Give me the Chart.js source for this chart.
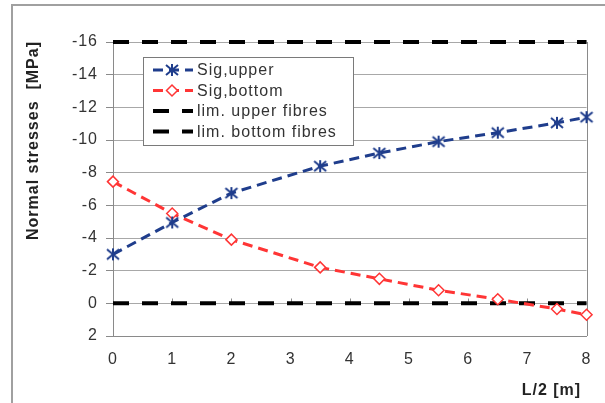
<!DOCTYPE html>
<html lang="en">
<head>
<meta charset="UTF-8">
<title>Normal stresses along L/2</title>
<script src="https://cdn.jsdelivr.net/npm/chart.js"></script>
<style>
  body { margin: 0; background: #fff; }
  .wrap { position: relative; width: 605px; height: 403px; overflow: hidden; }
  .frame {
    position: absolute; left: 11px; top: 4px; width: 700px; height: 500px;
    border-left: 2px solid #a0a0a0; border-top: 2px solid #a0a0a0;
  }
  canvas { position: absolute; left: 0; top: 0; }
</style>
</head>
<body>
<div class="wrap">
  <div class="frame"></div>
  <canvas id="stressChart" width="605" height="403"></canvas>
</div>
<script>
// stations along half span L/2 [m]
const positions = [0, 1, 2, 3.5, 4.5, 5.5, 6.5, 7.5, 8];
// normal stresses [MPa] (compression negative)
const sigUpper = [-3.0, -4.95, -6.75, -8.4, -9.2, -9.9, -10.45, -11.05, -11.4];
const sigBottom = [-7.45, -5.5, -3.9, -2.2, -1.5, -0.8, -0.25, 0.35, 0.7];
// limit lines
const limX = [0, 8];
const limUpper = [-16, -16];
const limBottom = [0, 0];
// axis ticks
const xTicks = [0, 1, 2, 3, 4, 5, 6, 7, 8];
const yTicks = [-16, -14, -12, -10, -8, -6, -4, -2, 0, 2];
const yTitle = 'Normal stresses  [MPa]';
const xTitle = 'L/2 [m]';

const BLUE = '#1f3d8c';
const RED = '#ff3535';
const FONT = '"Liberation Sans", Arial, sans-serif';

// excel-like star marker (x with vertical bar)
function makeStar(color) {
  const c = document.createElement('canvas');
  c.width = 16; c.height = 14;
  const g = c.getContext('2d');
  g.strokeStyle = color;
  g.lineWidth = 2;
  g.beginPath();
  g.moveTo(2, 2); g.lineTo(14, 12);
  g.moveTo(14, 2); g.lineTo(2, 12);
  g.moveTo(8, 1); g.lineTo(8, 13);
  g.stroke();
  return c;
}
const starMarker = makeStar(BLUE);

function pts(xs, ys) {
  return xs.map((x, i) => ({ x: x, y: ys[i] }));
}

function drawDiamond(ctx, cx, cy, r, color) {
  ctx.beginPath();
  ctx.moveTo(cx - r, cy); ctx.lineTo(cx, cy - r);
  ctx.lineTo(cx + r, cy); ctx.lineTo(cx, cy + r);
  ctx.closePath();
  ctx.fillStyle = '#fff';
  ctx.fill();
  ctx.lineWidth = 1.5;
  ctx.strokeStyle = color;
  ctx.stroke();
}

// frame, zero-line ticks, y title and the inside legend
const plotExtras = {
  id: 'plotExtras',
  beforeDraw(chart) {
    chart.ctx.letterSpacing = '1px';
  },
  beforeDatasetsDraw(chart) {
    const { ctx, chartArea: a, scales: { x, y } } = chart;
    ctx.save();
    ctx.strokeStyle = '#8a8a8a';
    ctx.lineWidth = 1;
    ctx.beginPath();
    ctx.moveTo(Math.round(a.right) + 0.5, a.top);
    ctx.lineTo(Math.round(a.right) + 0.5, a.bottom);
    const y0 = Math.round(y.getPixelForValue(0)) + 0.5;
    xTicks.forEach(v => {
      const px = Math.round(x.getPixelForValue(v)) + 0.5;
      ctx.moveTo(px, y0);
      ctx.lineTo(px, y0 - 5);
    });
    ctx.stroke();
    ctx.restore();
  },
  afterDraw(chart) {
    const ctx = chart.ctx;
    const a = chart.chartArea;

    // y axis title, top-aligned with the plot
    ctx.save();
    ctx.translate(34, a.top - 1);
    ctx.rotate(-Math.PI / 2);
    ctx.fillStyle = '#222';
    ctx.font = 'bold 16px ' + FONT;
    ctx.textAlign = 'right';
    ctx.textBaseline = 'middle';
    ctx.fillText(yTitle, 0, 0);
    ctx.restore();

    const left = a.left + 30, top = a.top + 15;
    ctx.save();
    ctx.fillStyle = '#fff';
    ctx.fillRect(left, top, 210, 88);
    ctx.strokeStyle = '#7a7a7a';
    ctx.lineWidth = 1;
    ctx.strokeRect(left + 0.5, top + 0.5, 210, 88);
    chart.data.datasets.forEach((ds, i) => {
      const yy = top + 13 + i * 20.5;
      ctx.setLineDash(ds.borderDash);
      ctx.strokeStyle = ds.borderColor;
      ctx.lineWidth = ds.borderWidth;
      ctx.beginPath();
      ctx.moveTo(left + 10, yy);
      ctx.lineTo(left + 50, yy);
      ctx.stroke();
      ctx.setLineDash([]);
      if (ds.pointStyle === starMarker) {
        ctx.drawImage(starMarker, left + 29 - 8, yy - 7);
      } else if (ds.pointStyle === 'rectRot') {
        drawDiamond(ctx, left + 29, yy, 5.5, RED);
      }
      ctx.fillStyle = '#333';
      ctx.font = '16px ' + FONT;
      ctx.textBaseline = 'middle';
      ctx.fillText(ds.label, left + 54, yy + 1);
    });
    ctx.restore();
  }
};

const ctx = document.getElementById('stressChart').getContext('2d');
new Chart(ctx, {
  type: 'line',
  data: {
    datasets: [
      {
        label: 'Sig,upper',
        data: pts(positions, sigUpper),
        borderColor: BLUE,
        borderWidth: 3,
        borderDash: [10, 6],
        pointStyle: starMarker,
        pointRadius: 7,
        fill: false,
        clip: false
      },
      {
        label: 'Sig,bottom',
        data: pts(positions, sigBottom),
        borderColor: RED,
        borderWidth: 3,
        borderDash: [10, 6],
        pointStyle: 'rectRot',
        pointRadius: 5.5,
        pointBorderWidth: 1.5,
        pointBackgroundColor: '#fff',
        pointBorderColor: RED,
        fill: false,
        clip: false
      },
      {
        label: 'lim. upper fibres',
        data: pts(limX, limUpper),
        borderColor: '#000',
        borderWidth: 4,
        borderDash: [16, 13],
        pointRadius: 0,
        fill: false,
        clip: false
      },
      {
        label: 'lim. bottom fibres',
        data: pts(limX, limBottom),
        borderColor: '#000',
        borderWidth: 4,
        borderDash: [16, 13],
        pointRadius: 0,
        fill: false,
        clip: false
      }
    ]
  },
  options: {
    responsive: false,
    animation: false,
    layout: { padding: { top: 42, right: 18, left: 0, bottom: 0 } },
    plugins: {
      legend: { display: false },
      tooltip: { enabled: false }
    },
    scales: {
      x: {
        type: 'linear',
        min: 0,
        max: 8,
        afterBuildTicks: s => { s.ticks = xTicks.map(v => ({ value: v })); },
        afterFit: s => { s.height = 67; },
        grid: { display: false, drawTicks: false },
        border: { display: true, color: '#8a8a8a', width: 1 },
        ticks: { padding: 14, color: '#333', font: { family: FONT, size: 16 } },
        title: {
          display: true,
          text: xTitle + ' ',
          align: 'end',
          color: '#222',
          font: { family: FONT, size: 16, weight: 'bold' },
          padding: { top: 0, bottom: 3 }
        }
      },
      y: {
        type: 'linear',
        min: -16,
        max: 2,
        reverse: true,
        afterBuildTicks: s => { s.ticks = yTicks.map(v => ({ value: v })); },
        afterFit: s => { s.width = 113; },
        grid: { color: '#a8a8a8', lineWidth: 1, tickLength: 7, tickColor: '#8a8a8a' },
        border: { display: true, color: '#8a8a8a', width: 1 },
        ticks: {
          padding: 8,
          color: '#333',
          font: { family: FONT, size: 16 },
          callback: v => String(v)
        },
        title: { display: false }
      }
    }
  },
  plugins: [plotExtras]
});
</script>
</body>
</html>
